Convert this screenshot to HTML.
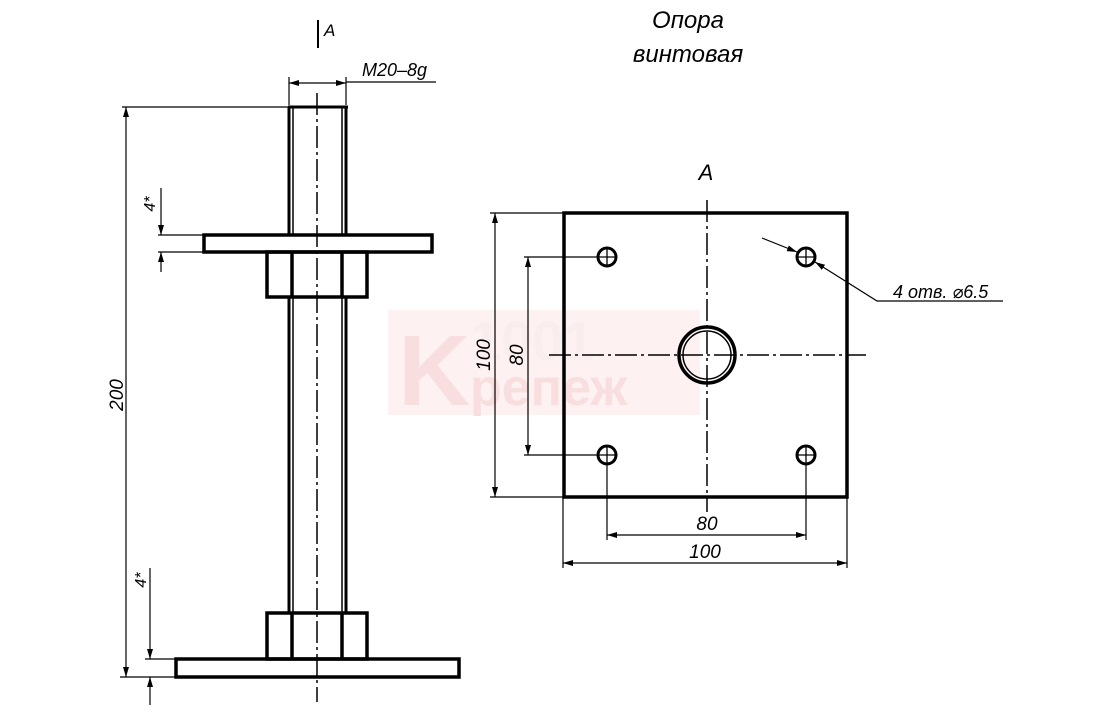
<!DOCTYPE html>
<html><head><meta charset="utf-8"><style>
html,body{margin:0;padding:0;background:#fff;}
svg{display:block;}
text{font-family:"Liberation Sans","DejaVu Sans",sans-serif;font-style:italic;fill:#000;}
</style></head><body>
<svg width="1103" height="714" viewBox="0 0 1103 714" xmlns="http://www.w3.org/2000/svg">
<defs>
<marker id="ar" viewBox="0 0 10 6" refX="10" refY="3" markerWidth="10" markerHeight="6" orient="auto-start-reverse" markerUnits="userSpaceOnUse"><path d="M0,0 L10,3 L0,6 z" fill="#000"/></marker>
</defs>
<!-- watermark -->
<rect x="388" y="310" width="312" height="105" fill="#fdf1f1"/>
<text x="398" y="405" font-size="100" font-weight="bold" style="fill:#f8dede;font-style:normal" font-family="Liberation Serif">K</text>
<text x="470" y="405" font-size="52" style="fill:#f8dede;font-style:normal" font-family="Liberation Serif" font-weight="bold">репеж</text>
<text x="470" y="360" font-size="56" style="fill:#f9eeee;font-style:normal" font-weight="bold">1001</text>

<!-- Title -->
<text x="688" y="28" font-size="24" text-anchor="middle">Опора</text>
<text x="688" y="62" font-size="24" text-anchor="middle">винтовая</text>

<g stroke="#000" fill="none">
<line x1="318" y1="20" x2="318" y2="48" stroke-width="2"/>
<line x1="317" y1="93" x2="317" y2="702" stroke-width="1.5" stroke-dasharray="22,4,3,4"/>
<line x1="289" y1="107" x2="289" y2="235" stroke-width="3"/>
<line x1="293" y1="107" x2="293" y2="235" stroke-width="1.5"/>
<line x1="346" y1="107" x2="346" y2="235" stroke-width="3"/>
<line x1="342" y1="107" x2="342" y2="235" stroke-width="1.5"/>
<line x1="288" y1="107" x2="348" y2="107" stroke-width="3"/>
<line x1="289" y1="297" x2="289" y2="613" stroke-width="3"/>
<line x1="293" y1="297" x2="293" y2="613" stroke-width="1.5"/>
<line x1="346" y1="297" x2="346" y2="613" stroke-width="3"/>
<line x1="342" y1="297" x2="342" y2="613" stroke-width="1.5"/>
<rect x="204" y="235" width="228" height="17" stroke-width="3.5"/>
<rect x="267" y="252" width="100" height="45" stroke-width="3.5"/>
<line x1="292" y1="252" x2="292" y2="297" stroke-width="3.5"/>
<line x1="342" y1="252" x2="342" y2="297" stroke-width="3.5"/>
<rect x="267" y="613" width="100" height="46" stroke-width="3.5"/>
<line x1="292" y1="613" x2="292" y2="659" stroke-width="3.5"/>
<line x1="342" y1="613" x2="342" y2="659" stroke-width="3.5"/>
<rect x="176" y="659" width="283" height="18" stroke-width="3.5"/>

<line x1="289" y1="77" x2="289" y2="105" stroke-width="1.2"/>
<line x1="346" y1="77" x2="346" y2="105" stroke-width="1.2"/>
<line x1="289" y1="83" x2="346" y2="83" stroke-width="1.2" marker-start="url(#ar)" marker-end="url(#ar)"/>
<line x1="346" y1="82" x2="436" y2="82" stroke-width="1.2"/>
<line x1="122" y1="107" x2="288" y2="107" stroke-width="1.2"/>
<line x1="120" y1="677" x2="176" y2="677" stroke-width="1.2"/>
<line x1="126" y1="107" x2="126" y2="677" stroke-width="1.2" marker-start="url(#ar)" marker-end="url(#ar)"/>
<line x1="158" y1="235" x2="204" y2="235" stroke-width="1.2"/>
<line x1="158" y1="252" x2="204" y2="252" stroke-width="1.2"/>
<line x1="161" y1="188" x2="161" y2="235" stroke-width="1.2" marker-end="url(#ar)"/>
<line x1="161" y1="272" x2="161" y2="252" stroke-width="1.2" marker-end="url(#ar)"/>
<line x1="145" y1="659" x2="176" y2="659" stroke-width="1.2"/>
<line x1="150" y1="568" x2="150" y2="659" stroke-width="1.2" marker-end="url(#ar)"/>
<line x1="150" y1="705" x2="150" y2="677" stroke-width="1.2" marker-end="url(#ar)"/>

<rect x="564" y="213" width="283" height="284" stroke-width="3.5"/>
<line x1="707" y1="200" x2="707" y2="512" stroke-width="1.5" stroke-dasharray="22,4,3,4"/>
<line x1="549" y1="355" x2="866" y2="355" stroke-width="1.5" stroke-dasharray="22,4,3,4"/>
<circle cx="707" cy="355" r="28" stroke-width="3.5"/>
<circle cx="707" cy="355" r="24" stroke-width="1.5"/>
<g stroke-width="3">
<circle cx="607" cy="257" r="9"/><circle cx="806" cy="257" r="9"/>
<circle cx="607" cy="455" r="9"/><circle cx="806" cy="455" r="9"/>
</g>
<g stroke-width="1.3">
<path d="M598 257h18M607 248v18M797 257h18M806 248v18M598 455h18M607 446v18M797 455h18M806 446v18"/>
</g>
<line x1="490" y1="213" x2="563" y2="213" stroke-width="1.2"/>
<line x1="490" y1="497" x2="563" y2="497" stroke-width="1.2"/>
<line x1="495" y1="213" x2="495" y2="497" stroke-width="1.2" marker-start="url(#ar)" marker-end="url(#ar)"/>
<line x1="524" y1="257" x2="598" y2="257" stroke-width="1.2"/>
<line x1="524" y1="455" x2="598" y2="455" stroke-width="1.2"/>
<line x1="528" y1="257" x2="528" y2="455" stroke-width="1.2" marker-start="url(#ar)" marker-end="url(#ar)"/>
<line x1="607" y1="464" x2="607" y2="540" stroke-width="1.2"/>
<line x1="806" y1="464" x2="806" y2="540" stroke-width="1.2"/>
<line x1="607" y1="535" x2="806" y2="535" stroke-width="1.2" marker-start="url(#ar)" marker-end="url(#ar)"/>
<line x1="563" y1="497" x2="563" y2="568" stroke-width="1.2"/>
<line x1="847" y1="497" x2="847" y2="568" stroke-width="1.2"/>
<line x1="563" y1="563" x2="847" y2="563" stroke-width="1.2" marker-start="url(#ar)" marker-end="url(#ar)"/>
<line x1="762" y1="238" x2="797" y2="252" stroke-width="1.2" marker-end="url(#ar)"/>
<polyline points="1003,301 877,301 815,262" stroke-width="1.2" marker-end="url(#ar)"/>
</g>

<text x="324" y="36" font-size="17">A</text>
<text x="362" y="76" font-size="18">M20–8g</text>
<text x="706" y="180" font-size="22" text-anchor="middle">A</text>
<text x="893" y="298" font-size="18">4  отв. ⌀6.5</text>
<text x="707" y="530" font-size="19" text-anchor="middle">80</text>
<text x="705" y="558" font-size="19" text-anchor="middle">100</text>
<text transform="translate(490,355) rotate(-90)" font-size="19" text-anchor="middle">100</text>
<text transform="translate(523,355) rotate(-90)" font-size="19" text-anchor="middle">80</text>
<text transform="translate(123,395) rotate(-90)" font-size="19" text-anchor="middle">200</text>
<text transform="translate(155,204) rotate(-90)" font-size="16" text-anchor="middle">4*</text>
<text transform="translate(146,580) rotate(-90)" font-size="16" text-anchor="middle">4*</text>
</svg>
</body></html>
